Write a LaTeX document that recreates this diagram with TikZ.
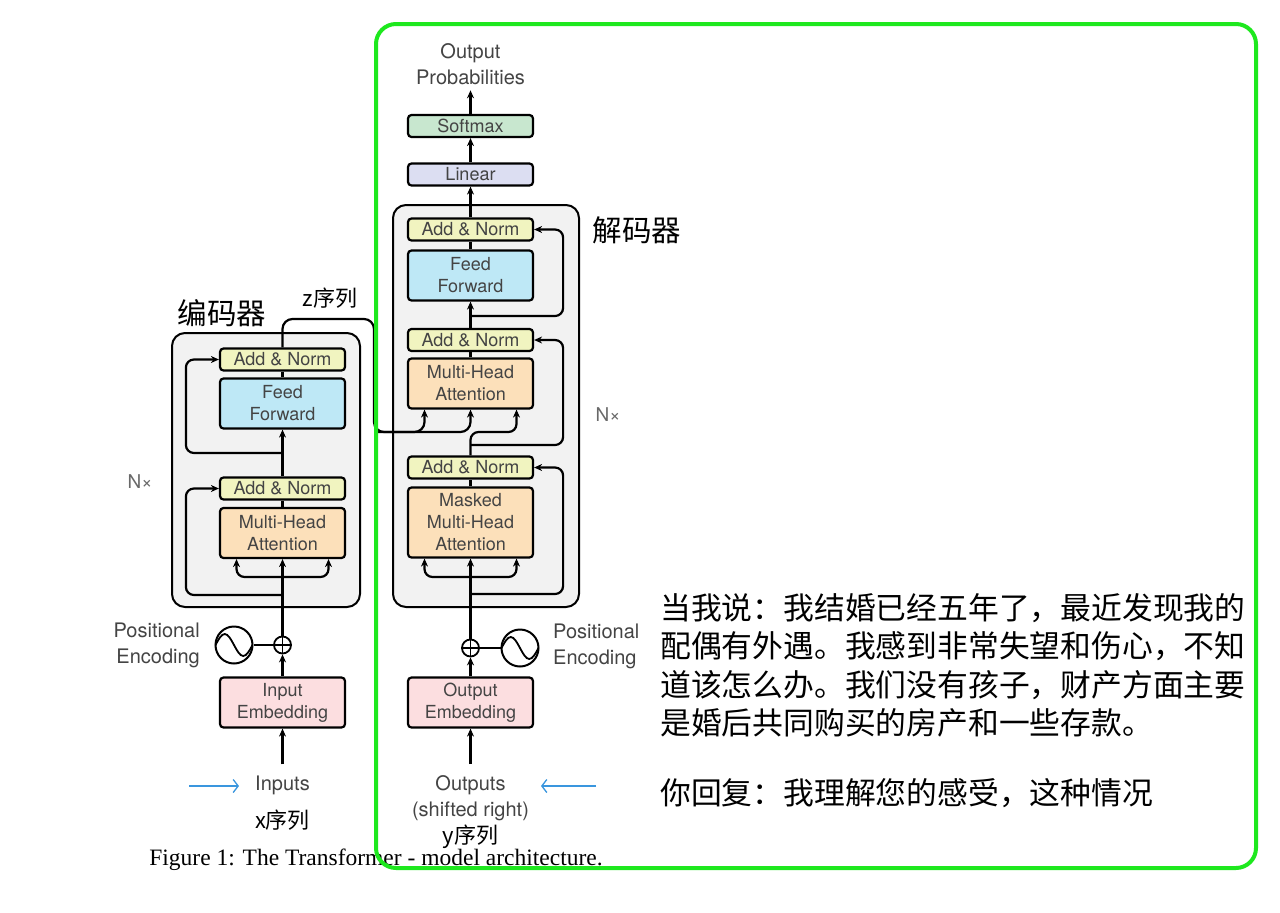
\documentclass[tikz,border=0pt]{standalone}
\usepackage{fontspec}
\setmainfont{TeX Gyre Heros}
\newfontfamily\capfont{Liberation Serif}
\newfontfamily\cjk{Noto Sans CJK SC}
\usepackage{tikz}
\usetikzlibrary{arrows.meta}

\definecolor{stackgray}{RGB}{242,242,242}
\definecolor{normyellow}{RGB}{241,244,192}
\definecolor{ffblue}{RGB}{190,232,246}
\definecolor{attnorange}{RGB}{252,224,186}
\definecolor{embpink}{RGB}{252,222,224}
\definecolor{linlilac}{RGB}{220,222,242}
\definecolor{smgreen}{RGB}{200,231,207}
\definecolor{labelgray}{RGB}{68,68,68}
\definecolor{hintblue}{RGB}{58,150,222}
\definecolor{framegreen}{RGB}{30,232,30}

\begin{document}
\begin{tikzpicture}[x=1pt, y=-1pt,
  blk/.style={draw, line width=2.2pt, rounded corners=3.5pt, minimum width=125pt,
    inner sep=0pt, align=center, text=labelgray, font=\fontsize{18}{22}\selectfont},
  normblk/.style={blk, fill=normyellow, minimum height=22pt},
  ffblk/.style={blk, fill=ffblue, minimum height=50pt},
  attnblk/.style={blk, fill=attnorange, minimum height=50pt},
  embblk/.style={blk, fill=embpink, minimum height=50pt},
  stackbox/.style={draw, fill=stackgray, line width=2pt, rounded corners=13pt},
  lbl/.style={align=center, text=labelgray, font=\fontsize{20}{26}\selectfont, inner sep=1pt},
  nx/.style={text=labelgray!80, font=\fontsize{19}{22}\selectfont, inner sep=0pt},
  zh/.style={font=\cjk\fontsize{22}{26}\selectfont, inner sep=0pt},
  zhbig/.style={font=\cjk\fontsize{29.5}{32}\selectfont, inner sep=0pt},
  wire/.style={line width=2.2pt, rounded corners=8pt},
  arr/.style={wire, -{Stealth[length=8pt,width=7pt]}},
  hint/.style={line width=1.3pt, draw=hintblue, -{Straight Barb[length=5pt,width=13pt]}},
  addsym/.style={circle, draw, line width=1.8pt, minimum size=17pt, inner sep=0pt,
    path picture={\draw[line width=1.5pt]
      (path picture bounding box.north) -- (path picture bounding box.south)
      (path picture bounding box.west) -- (path picture bounding box.east);}},
  wave/.style={circle, draw, line width=2pt, minimum size=37pt, inner sep=0pt,
    path picture={\draw[line width=1.8pt] ([xshift=-18.5pt]path picture bounding box.center)
      sin ++(9.25pt,11pt) cos ++(9.25pt,-11pt) sin ++(9.25pt,-11pt) cos ++(9.25pt,11pt);}}
]
\fill[white] (0,0) rectangle (1280,913);
\useasboundingbox (0,0) rectangle (1280,913);

% stacks
\draw[stackbox] (172,333) rectangle (360,607);
\draw[stackbox] (393,205) rectangle (579,607);

% encoder
\node[normblk] (encan2) at (282.5,359.5) {Add \& Norm};
\node[ffblk]   (encff)  at (282.5,403.5) {Feed\\Forward};
\node[normblk] (encan1) at (282.5,488.5) {Add \& Norm};
\node[attnblk] (encmha) at (282.5,533) {Multi-Head\\Attention};
\node[addsym]  (encplus) at (282.5,645) {};
\node[wave]    (encpe) at (234,645) {};
\node[embblk]  (encemb) at (282.5,702.5) {Input\\Embedding};
\node[lbl, anchor=east, align=right] (encpetxt) at (201,645) {Positional\\Encoding};
\node[lbl] (inputs) at (282.5,785) {Inputs};
\node[zh] (xseq) at (282.5,820) {x序列};
\node[nx] (encnx) at (140,482) {N×};
\node[zhbig] (enctitle) at (222,313) {编码器};
\node[zh] (zseq) at (330,298) {z序列};

\coordinate (ebt) at (282.5,453);
\coordinate (eba) at (282.5,577);
\coordinate (ebl) at (282.5,595);

\draw[arr] (encemb) -- (encplus);
\draw[wire] (encpe) -- (encplus);
\draw[arr] (encplus) -- (encmha);
\foreach \s in {-46,46}
  \draw[arr] (eba) -| ([xshift=\s pt]encmha.south);
\draw[arr] (ebl) -| ([xshift=-33pt]encan1.west) -- (encan1.west);
\draw[wire] (encmha) -- (encan1);
\draw[arr] (encan1) -- (encff);
\draw[arr] (ebt) -| ([xshift=-33pt]encan2.west) -- (encan2.west);
\draw[wire] (encff) -- (encan2);
\draw[arr, shorten <=10pt] (inputs) -- (encemb);

% decoder
\node[blk, fill=smgreen, minimum height=22pt] (softmax) at (470.5,126) {Softmax};
\node[blk, fill=linlilac, minimum height=22pt] (linear) at (470.5,174.5) {Linear};
\node[normblk] (decan3) at (470.5,229.5) {Add \& Norm};
\node[ffblk]   (decff)  at (470.5,275.5) {Feed\\Forward};
\node[normblk] (decan2) at (470.5,340) {Add \& Norm};
\node[attnblk] (decmha) at (470.5,383.5) {Multi-Head\\Attention};
\node[normblk] (decan1) at (470.5,467.5) {Add \& Norm};
\node[attnblk, minimum height=70pt] (decmmha) at (470.5,522.5) {Masked\\Multi-Head\\Attention};
\node[addsym]  (decplus) at (470.5,648) {};
\node[wave]    (decpe) at (520,648) {};
\node[embblk]  (decemb) at (470.5,702.5) {Output\\Embedding};
\node[lbl, anchor=west, align=left] (decpetxt) at (552,646) {Positional\\Encoding};
\node[lbl] (outputs) at (470.5,798) {Outputs\\(shifted right)};
\node[zh] (yseq) at (470.5,837) {y序列};
\node[lbl] (outprob) at (470.5,64.5) {Output\\Probabilities};
\node[nx] (decnx) at (608,415) {N×};
\node[zhbig] (dectitle) at (637,230) {解码器};

\coordinate (dbt) at (470.5,316);
\coordinate (dq)  at (470.5,432);
\coordinate (dbm) at (470.5,445);
\coordinate (dba) at (470.5,577);
\coordinate (dbl) at (470.5,594);

\draw[arr] (decemb) -- (decplus);
\draw[wire] (decpe) -- (decplus);
\draw[arr] (decplus) -- (decmmha);
\foreach \s in {-46,46}
  \draw[arr] (dba) -| ([xshift=\s pt]decmmha.south);
\draw[arr] (dbl) -| ([xshift=29pt]decan1.east) -- (decan1.east);
\draw[wire] (decmmha) -- (decan1);
\draw[arr] (decan1.north) -- (dq) -| ([xshift=46pt]decmha.south);
\draw[arr] (dbm) -| ([xshift=29pt]decan2.east) -- (decan2.east);
\draw[wire] (decmha) -- (decan2);
\draw[arr] (decan2) -- (decff);
\draw[arr] (dbt) -| ([xshift=29pt]decan3.east) -- (decan3.east);
\draw[wire] (decff) -- (decan3);
\draw[arr] (decan3) -- (linear);
\draw[arr] (linear) -- (softmax);
\draw[arr, shorten >=4pt] (softmax) -- (outprob);
\draw[arr, shorten <=10pt] (outputs) -- (decemb);

% encoder output into decoder
\coordinate (zr) at (374,319);
\coordinate (zl) at (374,432);
\draw[arr, rounded corners=10pt] (encan2.north) |- (zr) -- (zl) -| ([xshift=-46pt]decmha.south);
\draw[arr, rounded corners=10pt] (zl) -| (decmha.south);

% blue hints
\coordinate (inA) at (189,786);
\coordinate (inB) at (239,786);
\coordinate (outA) at (596,786);
\coordinate (outB) at (541,786);
\draw[hint] (inA) -- (inB);
\draw[hint] (outA) -- (outB);

% caption and frame
\node[font=\capfont\fontsize{23.5}{28}\selectfont, text=black] (caption) at (376,860)
  {Figure 1: The Transformer - model architecture.};
\draw[framegreen, line width=4pt, rounded corners=20pt] (376,24) rectangle (1256,868);

% dialogue text
\node[anchor=north west, align=left, inner sep=0pt,
  font=\cjk\fontsize{30.8}{38.5}\selectfont] (reply) at (660,593)
  {当我说：我结婚已经五年了，最近发现我的\\
   配偶有外遇。我感到非常失望和伤心，不知\\
   道该怎么办。我们没有孩子，财产方面主要\\
   是婚后共同购买的房产和一些存款。\\[31pt]
   你回复：我理解您的感受，这种情况};
\end{tikzpicture}
\end{document}
